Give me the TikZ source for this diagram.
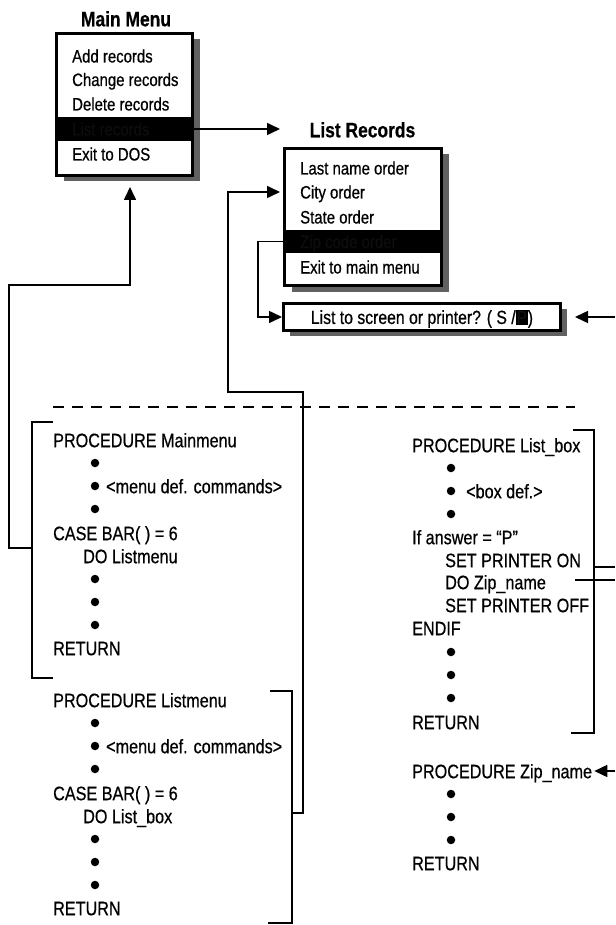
\documentclass[tikz,border=0pt]{standalone}
\usepackage{fontspec}
\setmainfont{Liberation Sans}[FakeStretch=0.83,FakeBold=0.6]
\usetikzlibrary{arrows.meta,shadows}
\newcommand\hlbox[1]{{\setlength{\fboxsep}{0.8pt}\colorbox{black}{\textcolor{black!93}{#1}}}}
\tikzset{
  mi/.style={anchor=base west, inner sep=0pt, font=\fontsize{18}{20}\selectfont},
  hid/.style={mi, text=black!95},
  code/.style={anchor=base west, inner sep=0pt, font=\fontsize{19.5}{22}\selectfont},
  ttl/.style={anchor=base, inner sep=0pt, font=\bfseries\fontsize{21}{23}\selectfont},
  boxbase/.style={draw, line width=3pt, fill=white, inner sep=0pt},
  shdA/.style={drop shadow={shadow xshift=7pt, shadow yshift=-6pt, fill=black!62, opacity=1}},
  shdB/.style={drop shadow={shadow xshift=6pt, shadow yshift=-5pt, fill=black!62, opacity=1}},
  bar/.style={fill=black, inner sep=0pt},
  conn/.style={line width=1.6pt},
  arr/.style={conn, -{Triangle[length=13pt,width=12pt]}},
  brk/.style={line width=1.6pt},
  dot/.style={circle, fill=black, inner sep=0pt, minimum size=8.5pt},
  sep/.style={line width=1.2pt, dash pattern=on 11pt off 8pt},
}
\begin{document}
\begin{tikzpicture}[x=1pt,y=-1pt]
\useasboundingbox (0,0) rectangle (615,925);
\fill[white] (0,0) rectangle (615,925);

% ---- Main Menu ----
\node[ttl] (mmt) at (126,26.3) {Main Menu};
\node[boxbase, shdA, minimum width=136pt, minimum height=142pt] (mm) at (124.5,104.5) {};
\node[bar, minimum width=137pt, minimum height=24pt] (mmbar) at (124.5,129) {};
\node[mi] (mm1) at (72,62.5) {Add records};
\node[mi] (mm2) at (72,86) {Change records};
\node[mi] (mm3) at (72,110.5) {Delete records};
\node[hid] (mm4) at (72,135.5) {List records};
\node[mi] (mm5) at (72,160.5) {Exit to DOS};

% ---- List Records ----
\node[ttl] (lrt) at (362.5,137.3) {List Records};
\node[boxbase, shdA, minimum width=157pt, minimum height=137pt] (lr) at (363,217) {};
\node[bar, minimum width=158pt, minimum height=23pt] (lrbar) at (363,241.5) {};
\node[mi] (lr1) at (300,174.5) {Last name order};
\node[mi] (lr2) at (300,198.5) {City order};
\node[mi] (lr3) at (300,223.5) {State order};
\node[hid] (lr4) at (300,248) {Zip code order};
\node[mi] (lr5) at (300,273.5) {Exit to main menu};

% ---- List to screen box ----
\node[boxbase, shdB, minimum width=277pt, minimum height=27pt, text depth=0pt,
      font=\fontsize{19}{21}\selectfont] (ls) at (422,317)
      {List to screen or printer? ( S /\hlbox{P})\hspace{8pt}};

% ---- separator ----
\coordinate (d1) at (53,407);
\coordinate (d2) at (575,407);
\draw[sep] (d1) -- (d2);

% ---- PROCEDURE Mainmenu ----
\node[code] (p1) at (53,447.2) {PROCEDURE Mainmenu};
\node[dot] (p1a) at (95,463) {};
\node[dot] (p1b) at (95,486) {};
\node[code] (p1t) at (106,493.2) {<menu def. commands>};
\node[dot] (p1c) at (95,509) {};
\node[code] (p1case) at (53,540.2) {CASE BAR( ) = 6};
\node[code] (p1do) at (83,563.2) {DO Listmenu};
\node[dot] (p1e) at (95,579) {};
\node[dot] (p1f) at (95,602) {};
\node[dot] (p1g) at (95,625) {};
\node[code] (p1r) at (53,655.2) {RETURN};
\draw[brk] (53,422) -- (32,422) -- (32,678) -- (53,678);

% ---- PROCEDURE Listmenu ----
\node[code] (p2) at (53,707.2) {PROCEDURE Listmenu};
\node[dot] (p2a) at (95,723) {};
\node[dot] (p2b) at (95,746) {};
\node[code] (p2t) at (106,753.2) {<menu def. commands>};
\node[dot] (p2c) at (95,769) {};
\node[code] (p2case) at (53,800.2) {CASE BAR( ) = 6};
\node[code] (p2do) at (83,823.2) {DO List\_box};
\node[dot] (p2e) at (95,839) {};
\node[dot] (p2f) at (95,862) {};
\node[dot] (p2g) at (95,885) {};
\node[code] (p2r) at (53,915.2) {RETURN};
\draw[brk] (270,691) -- (292,691) -- (292,923) -- (268,923);

% ---- PROCEDURE List_box ----
\node[code] (p3) at (412,452.2) {PROCEDURE List\_box};
\node[dot] (p3a) at (451,468) {};
\node[dot] (p3b) at (451,491) {};
\node[code] (p3t) at (466,498.2) {<box def.>};
\node[dot] (p3c) at (451,514) {};
\node[code] (p3if) at (412,544.2) {If answer = “P”};
\node[code] (p3on) at (445,567.2) {SET PRINTER ON};
\node[code] (p3do) at (445,589.2) {DO Zip\_name};
\node[code] (p3off) at (445,612.2) {SET PRINTER OFF};
\node[code] (p3end) at (412,635.2) {ENDIF};
\node[dot] (p3e) at (451,652) {};
\node[dot] (p3f) at (451,675) {};
\node[dot] (p3g) at (451,698) {};
\node[code] (p3r) at (412,729.2) {RETURN};
\draw[brk] (573,430) -- (594,430) -- (594,733) -- (571,733);

% ---- PROCEDURE Zip_name ----
\node[code] (p4) at (412,778.2) {PROCEDURE Zip\_name};
\node[dot] (p4a) at (451,794) {};
\node[dot] (p4b) at (451,817) {};
\node[dot] (p4c) at (451,840) {};
\node[code] (p4r) at (412,870.2) {RETURN};

% ---- connectors ----
\coordinate (lrin) at (280,129);
\draw[arr] (mmbar.east) -- (lrin);

\coordinate (mmbrk) at (32,548);
\coordinate (mmin) at (130,187);
\draw[arr] (mmbrk) -- (9,548) |- (130,285) -- (mmin);

\coordinate (lmbrk) at (292,813);
\coordinate (lrcity) at (280,192);
\draw[arr] (lmbrk) -| (303,392) -| (228,192) -- (lrcity);

\draw[arr] (lrbar.west) -| (258,317) -- (ls.west);

\coordinate (e1) at (615,317);
\draw[arr] (e1) -- ([xshift=13pt]ls.east);

\coordinate (lbbrk) at (594,567);
\coordinate (e2) at (615,567);
\draw[conn] (lbbrk) -- (e2);

\coordinate (dozl) at (575,580);
\coordinate (e3) at (615,580);
\draw[conn] (dozl) -- (e3);

\coordinate (e4) at (615,771);
\draw[arr] (e4) -- ([shift={(2pt,7.2pt)}]p4.base east);
\end{tikzpicture}
\end{document}
